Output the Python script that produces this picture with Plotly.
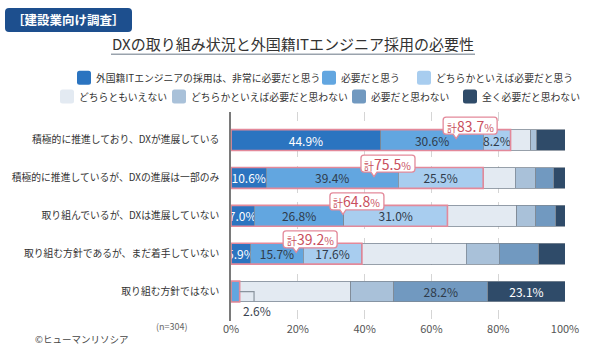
import plotly.graph_objects as go

# ---------------- data ----------------
categories = [
    "積極的に推進しており、DXが進展している",
    "積極的に推進しているが、DXの進展は一部のみ",
    "取り組んでいるが、DXは進展していない",
    "取り組む方針であるが、まだ着手していない",
    "取り組む方針ではない",
]
series_names = [
    "外国籍ITエンジニアの採用は、非常に必要だと思う",
    "必要だと思う",
    "どちらかといえば必要だと思う",
    "どちらともいえない",
    "どちらかといえば必要だと思わない",
    "必要だと思わない",
    "全く必要だと思わない",
]
very_needed = [44.9, 10.6, 7.0, 5.9, 0.0]
needed = [30.6, 39.4, 26.8, 15.7, 2.6]
rather_needed = [8.2, 25.5, 31.0, 17.6, 0.0]
neutral = [6.0, 9.6, 20.7, 31.3, 33.3]
rather_not = [1.9, 6.2, 5.8, 9.8, 12.8]
not_needed = [0.0, 5.4, 5.9, 11.9, 28.2]
not_at_all = [8.4, 3.3, 2.8, 7.8, 23.1]
series_values = [very_needed, needed, rather_needed, neutral, rather_not, not_needed, not_at_all]
# which values get an in-bar label
label_shown = [
    [True, True, True, True, False],
    [True, True, True, True, False],
    [True, True, True, True, False],
    [False] * 5,
    [False] * 5,
    [False, False, False, False, True],
    [False, False, False, False, True],
]
totals_label = [83.7, 75.5, 64.8, 39.2, 2.6]
tick_vals = [0, 20, 40, 60, 80, 100]
tick_text = ["0%", "20%", "40%", "60%", "80%", "100%"]

# ---------------- style ----------------
colors = ["#2b74c0", "#62a6e0", "#a8cdef", "#e3eaf2", "#a9c1d9", "#7199c0", "#2f4b69"]
text_colors = ["white", "#2f3b4a", "#2f3b4a", "#2f3b4a", "#2f3b4a", "#2f3b4a", "white"]
FONT = "Noto Sans CJK JP"
PINK = "#e3899a"
PINK_TXT = "#c9505e"

W, H = 590, 352
L, R, T, B = 231, 565, 111.5, 321.5


def px(x):
    return (x - L) / (R - L)


def py(y):
    return (B - y) / (B - T)


fig = go.Figure()
for k, (name, vals) in enumerate(zip(series_names, series_values)):
    txt = [f"{v:.1f}%" if label_shown[k][i] else "" for i, v in enumerate(vals)]
    fig.add_trace(go.Bar(
        y=categories, x=vals, name=name, orientation="h",
        marker=dict(color=colors[k], line=dict(color="#7d8895", width=0.8)),
        width=0.55,
        text=txt, textposition="inside", insidetextanchor="middle",
        constraintext="none", textangle=0,
        textfont=dict(family=FONT, size=12, color=text_colors[k]),
        hoverinfo="x+name", showlegend=False,
    ))

shapes = []
annotations = []

# pink outlines around the "needed" group
for i, cat in enumerate(categories):
    s = very_needed[i] + needed[i] + rather_needed[i]
    shapes.append(dict(type="rect", xref="x", yref="y", x0=0, x1=s,
                       y0=i - 0.275, y1=i + 0.275,
                       line=dict(color=PINK, width=1.6), layer="above"))

# callouts (positions are layout choices)
callout_x = [71.6, 47.0, 37.7, 23.7]
box_path = ("M -24 8.5 L 24 8.5 Q 27 8.5 27 5.5 L 27 -5.5 Q 27 -8.5 24 -8.5 "
            "L -11 -8.5 L -14 -13 L -17 -8.5 L -24 -8.5 Q -27 -8.5 -27 -5.5 "
            "L -27 5.5 Q -27 8.5 -24 8.5 Z")
for i in range(4):
    yv = i - 0.38
    shapes.append(dict(type="path", xref="x", yref="y", xsizemode="pixel", ysizemode="pixel",
                       xanchor=callout_x[i], yanchor=yv, path=box_path,
                       fillcolor="white", line=dict(color=PINK, width=1.3), layer="above"))
    annotations.append(dict(
        x=callout_x[i], y=yv, xref="x", yref="y", showarrow=False,
        xanchor="center", yanchor="middle",
        text=f"<span style='font-size:10px'>計</span>{totals_label[i]:.1f}<span style='font-size:10.5px'>%</span>",
        font=dict(family=FONT, size=14, color=PINK_TXT),
    ))

# 2.6% external label with connector
s5 = needed[4]
shapes.append(dict(type="path", xref="x", yref="y",
                   path=f"M {s5} 4 L 6.9 4 L 6.9 4.27",
                   line=dict(color="#8a949e", width=1.2)))
annotations.append(dict(x=7.9, y=4.5, xref="x", yref="y", showarrow=False,
                        xanchor="center", yanchor="middle",
                        text=f"{totals_label[4]:.1f}%",
                        font=dict(family=FONT, size=12, color="#3a4450")))

# legend (custom)
leg_items = [
    (0, 77, 77), (1, 322, 77), (2, 417, 77),
    (3, 60, 96), (4, 172, 96), (5, 352, 96), (6, 463, 96),
]
for k, x0, yc in leg_items:
    r = 2.5
    path = (f"M {r} 0 L {14 - r} 0 Q 14 0 14 {r} L 14 {14 - r} Q 14 14 {14 - r} 14 "
            f"L {r} 14 Q 0 14 0 {14 - r} L 0 {r} Q 0 0 {r} 0 Z")
    shapes.append(dict(type="path", xref="paper", yref="paper", xsizemode="pixel", ysizemode="pixel",
                       xanchor=px(x0), yanchor=py(yc + 7), path=path,
                       fillcolor=colors[k], line=dict(width=0)))
    annotations.append(dict(x=px(x0 + 17), y=py(yc), xref="paper", yref="paper",
                            xanchor="left", yanchor="middle", showarrow=False,
                            text=series_names[k],
                            font=dict(family=FONT, size=9.8, color="#333333")))

# badge
bpath = ("M 4 0 L 123 0 Q 127 0 127 4 L 127 20 Q 127 24 123 24 L 4 24 Q 0 24 0 20 L 0 4 Q 0 0 4 0 Z")
shapes.append(dict(type="path", xref="paper", yref="paper", xsizemode="pixel", ysizemode="pixel",
                   xanchor=px(5), yanchor=py(31), path=bpath,
                   fillcolor="#1d4f8e", line=dict(width=0)))
annotations.append(dict(x=px(68.5), y=py(19), xref="paper", yref="paper", showarrow=False,
                        xanchor="center", yanchor="middle",
                        text="<b>［建設業向け調査］</b>",
                        font=dict(family=FONT, size=12.5, color="white")))

# title + underline
annotations.append(dict(x=px(293), y=py(43), xref="paper", yref="paper", showarrow=False,
                        xanchor="center", yanchor="middle",
                        text="DXの取り組み状況と外国籍ITエンジニア採用の必要性",
                        font=dict(family=FONT, size=15, color="#333333")))
shapes.append(dict(type="line", xref="paper", yref="paper",
                   x0=px(111), x1=px(475), y0=py(53.5), y1=py(53.5),
                   line=dict(color="#9aa3ad", width=1.6)))

# notes
annotations.append(dict(x=px(172), y=py(327), xref="paper", yref="paper", showarrow=False,
                        xanchor="center", yanchor="middle",
                        text="(n=304)", font=dict(family=FONT, size=9, color="#666666")))
annotations.append(dict(x=px(33), y=py(340), xref="paper", yref="paper", showarrow=False,
                        xanchor="left", yanchor="middle", text="©ヒューマンリソシア",
                        font=dict(family=FONT, size=9.5, color="#444444")))

fig.update_layout(
    barmode="stack", bargap=0.45,
    width=W, height=H,
    margin=dict(l=L, r=W - R, t=T, b=H - B, pad=0, autoexpand=False),
    paper_bgcolor="white", plot_bgcolor="white",
    font=dict(family=FONT, size=10.5, color="#333333"),
    shapes=shapes, annotations=annotations,
    xaxis=dict(range=[0, 100], tickvals=tick_vals, ticktext=tick_text, automargin=False,
               showgrid=True, gridcolor="#d5d5d5", griddash="dash", gridwidth=1,
               zeroline=False, showline=False, ticks="",
               tickfont=dict(family=FONT, size=11, color="#555555")),
    yaxis=dict(autorange="reversed", showline=True, linecolor="#7a7a7a", linewidth=1.5,
               showgrid=False, ticks="", ticklabelstandoff=8, automargin=False,
               tickfont=dict(family=FONT, size=9.8, color="#333333")),
)

fig.write_html("out.html")
